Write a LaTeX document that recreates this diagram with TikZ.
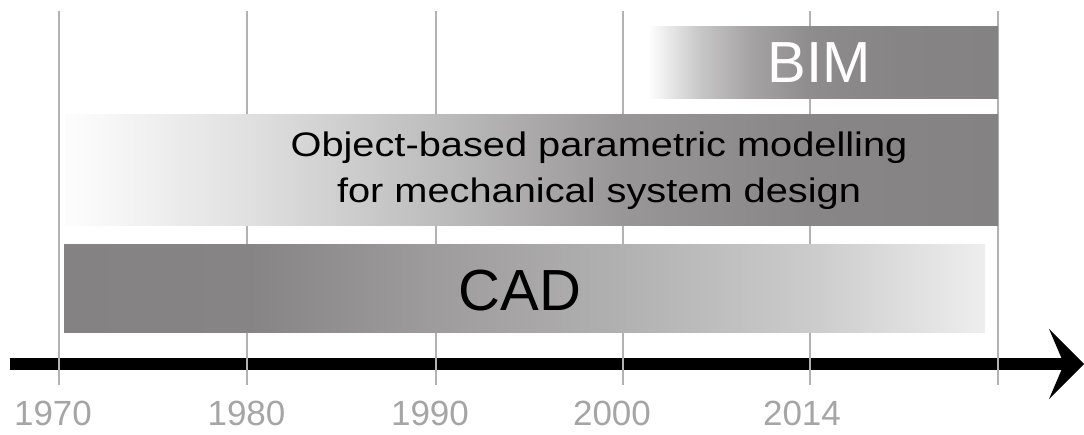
\documentclass[tikz,border=0pt]{standalone}
\usepackage{fontspec}
\usepackage{graphicx}
\setmainfont{Liberation Sans}
\usetikzlibrary{arrows.meta}

\definecolor{bargray}{RGB}{132,130,130}
\definecolor{gridgray}{RGB}{178,178,178}
\definecolor{yeargray}{RGB}{165,165,165}
\definecolor{gA}{RGB}{134,132,132}
\definecolor{gB}{RGB}{158,156,156}
\definecolor{gC}{RGB}{178,177,177}
\definecolor{gD}{RGB}{204,203,203}
\definecolor{gE}{RGB}{238,238,238}
\definecolor{mA}{RGB}{252,252,252}
\definecolor{mB}{RGB}{224,224,224}
\definecolor{mC}{RGB}{190,189,189}
\definecolor{mD}{RGB}{152,150,150}
\definecolor{mE}{RGB}{136,134,134}
\definecolor{bA}{RGB}{255,255,255}
\definecolor{bB}{RGB}{200,199,199}
\definecolor{bC}{RGB}{165,163,163}
\definecolor{bD}{RGB}{142,140,140}
\definecolor{bE}{RGB}{134,132,132}

% path bounding box spans 25bp..75bp of each shading
\pgfdeclarehorizontalshading{cadshade}{100bp}{%
  color(0bp)=(bargray); color(25bp)=(bargray); color(35.1bp)=(gA);
  color(45.2bp)=(gB); color(55.3bp)=(gC); color(65.5bp)=(gD);
  color(75bp)=(gE); color(100bp)=(gE)}
\pgfdeclarehorizontalshading{objshade}{100bp}{%
  color(0bp)=(mA); color(25.5bp)=(mA); color(34.8bp)=(mB);
  color(44.9bp)=(mC); color(54.9bp)=(mD); color(64.9bp)=(mE);
  color(75bp)=(bargray); color(100bp)=(bargray)}
\pgfdeclarehorizontalshading{bimshade}{100bp}{%
  color(0bp)=(bA); color(25bp)=(bA); color(32.4bp)=(bB);
  color(39.6bp)=(bC); color(48.1bp)=(bD); color(61bp)=(bE);
  color(75bp)=(bargray); color(100bp)=(bargray)}

\tikzset{
  bar/.style={inner sep=0pt, outer sep=0pt, anchor=north west},
  bartext/.style={inner sep=0pt, text=black},
  year/.style={inner sep=0pt, text=yeargray, font=\fontsize{35}{35}\selectfont},
  gridline/.style={draw=gridgray, line width=1.6pt},
  timeaxis/.style={line width=12pt,
    -{Stealth[length=35pt 0 0, width=70pt 0 0, inset=15pt 0 0, line width=0pt 0 0]}}
}

\begin{document}
\begin{tikzpicture}[x=1pt, y=-1pt]
\useasboundingbox (0,0) rectangle (1084,435);

% time axis
\coordinate (axstart) at (10,364);
\coordinate (axend) at (1084,364);
\draw[timeaxis] (axstart) -- (axend);

% year grid lines
\foreach \x in {59,247,436,623,810,998}
  \draw[gridline] (\x,11) -- (\x,385);

% era bars
\node[bar, shading=bimshade, minimum width=350pt, minimum height=72pt] (bim) at (648,27) {};
\node[bar, shading=objshade, minimum width=933pt, minimum height=111pt] (obj) at (65,115) {};
\node[bar, shading=cadshade, minimum width=921pt, minimum height=88pt] (cad) at (64,245) {};

% bar labels
\node[bartext, text=white, font=\fontsize{58}{58}\selectfont] (bimlabel) at (819,62.5) {BIM};
\node[bartext, font=\fontsize{34}{46}\selectfont] (objlabel) at (599,170)
  {\scalebox{1.17}[1]{\begin{tabular}{@{}c@{}}Object-based parametric modelling\\
   for mechanical system design\end{tabular}}};
\node[bartext, font=\fontsize{58}{58}\selectfont] (cadlabel) at (520,291) {CAD};

% year labels
\node[year] (y1970) at (53,413) {1970};
\node[year] (y1980) at (246.5,413) {1980};
\node[year] (y1990) at (430,413) {1990};
\node[year] (y2000) at (612,413) {2000};
\node[year] (y2014) at (802,413) {2014};
\end{tikzpicture}
\end{document}
